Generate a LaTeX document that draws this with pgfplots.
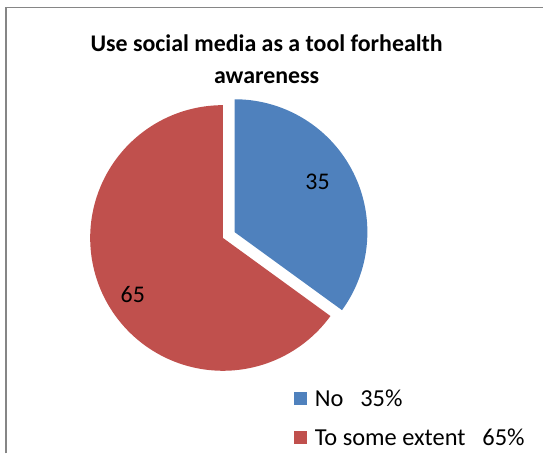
\documentclass[border=0pt]{standalone}
\usepackage{pgfplots}
\pgfplotsset{compat=1.18}
\usepackage{fontspec}
\setmainfont{Carlito}
\definecolor{pieblue}{RGB}{79,129,189}
\definecolor{piered}{RGB}{192,80,77}
\definecolor{frame}{RGB}{134,134,134}
\begin{document}
\begin{tikzpicture}
% shares in percent
\pgfmathsetmacro{\no}{35}
\pgfmathsetmacro{\some}{65}
\pgfmathsetmacro{\angno}{3.6*\no}
\pgfmathsetmacro{\r}{133}
% blue slice pulled out along its middle angle
\pgfmathsetmacro{\mid}{90-\angno/2}
\pgfmathsetmacro{\ex}{13*cos(\mid)}
\pgfmathsetmacro{\ey}{13*sin(\mid)}
\begin{axis}[
    x=1bp, y=1bp,
    xmin=-223.3, xmax=320.7,
    ymin=-215.7, ymax=238.3,
    hide axis,
    clip=false,
    legend style={
        at={(axis cs:70.7,-149.7)},
        anchor=north west,
        draw=none, fill=none,
        font=\fontsize{24.5}{28}\selectfont,
        row sep=17bp,
        inner sep=0pt,
        cells={anchor=west},
        /tikz/every odd column/.style={column sep=6bp},
    },
    legend image code/.code={
        \fill[#1] (0bp,-6.5bp) rectangle (13bp,6.5bp);
    },
]
\path (rel axis cs:0,0) rectangle (rel axis cs:1,1);

\addplot[fill=pieblue, draw=none, domain=90-\angno:90, samples=90, variable=\t]
    ({\ex+\r*cos(\t)}, {\ey+\r*sin(\t)}) -- (axis cs:\ex,\ey) -- cycle;
\addlegendentry{No\hspace{17bp}35\%}

\addplot[fill=piered, draw=none, domain=90:450-\angno, samples=150, variable=\t]
    ({\r*cos(\t)}, {\r*sin(\t)}) -- (axis cs:0,0) -- cycle;
\addlegendentry{To some extent\hspace{17bp}65\%}

\node[font=\fontsize{24}{28}\selectfont] at (axis cs:94.7,56.3) {35};
\node[font=\fontsize{24}{28}\selectfont] at (axis cs:-90.3,-56.7) {65};

\node[font=\bfseries\fontsize{24}{32}\selectfont, align=center]
    at (axis cs:43.7,179.3) {Use social media as a tool forhealth\\awareness};

\draw[frame, line width=1.5bp]
    (axis cs:-217.3,-215.7) -- (axis cs:-217.3,230.8) -- (axis cs:320.7,230.8);
\end{axis}
\end{tikzpicture}
\end{document}
